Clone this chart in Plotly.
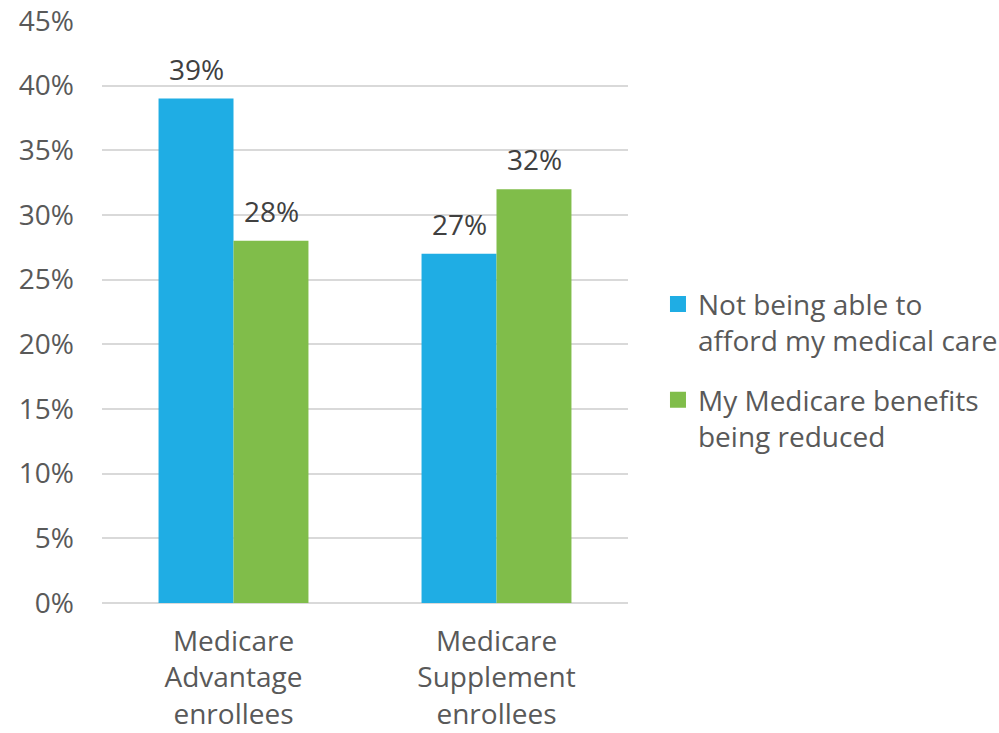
import plotly.graph_objects as go

categories = ["Medicare<br>Advantage<br>enrollees", "Medicare<br>Supplement<br>enrollees"]
series_names = ["Not being able to<br>afford my medical care", "My Medicare benefits<br>being reduced"]
afford_vals = [39, 27]
reduced_vals = [28, 32]
tick_vals = [0, 5, 10, 15, 20, 25, 30, 35, 40, 45]
tick_text = [f"{v}%" for v in tick_vals]

FONT = "Open Sans"
GRAY = "#595959"
SIZE = 28
colors = ["#1FADE4", "#80BD4A"]

fig = go.Figure()
all_vals = [afford_vals, reduced_vals]
for i, (name, vals) in enumerate(zip(series_names, all_vals)):
    fig.add_trace(go.Bar(
        x=categories, y=vals, name=name,
        marker=dict(color=colors[i], line=dict(width=0)),
        showlegend=False,
    ))
# legend entries with larger square symbols
for i, name in enumerate(series_names):
    fig.add_trace(go.Scatter(
        x=[None], y=[None], mode="markers", name=name,
        marker=dict(symbol="square", size=18, color=colors[i]),
        legendgroup=f"g{i}", showlegend=True,
    ))

# data labels
offsets = [-37.5, 37.5]
for i, vals in enumerate(all_vals):
    for cat, v in zip(categories, vals):
        fig.add_annotation(x=cat, y=v, xref="x", yref="y", text=f"{v}%",
                           showarrow=False, yanchor="bottom", xanchor="center",
                           xshift=offsets[i], yshift=9,
                           font=dict(family=FONT, size=SIZE, color="#404040"))

fig.update_layout(
    width=999, height=733,
    margin=dict(l=102, r=371, t=21, b=130, autoexpand=False),
    paper_bgcolor="white", plot_bgcolor="white",
    barmode="group", bargap=0.43, bargroupgap=0,
    font=dict(family=FONT, size=SIZE, color=GRAY),
    showlegend=True,
    legend=dict(x=1.057, y=0.40, xanchor="left", yanchor="middle",
                font=dict(family=FONT, size=SIZE, color=GRAY),
                tracegroupgap=20, traceorder="grouped", valign="top",
                itemwidth=30, bgcolor="rgba(0,0,0,0)"),
)
fig.update_yaxes(range=[0, 45], tickvals=tick_vals, ticktext=tick_text,
                 showgrid=True, gridcolor="#D9D9D9", gridwidth=1.5,
                 zeroline=True, zerolinecolor="#D9D9D9", zerolinewidth=1.5,
                 showline=False, ticks="", ticklabelstandoff=27,
                 tickfont=dict(family=FONT, size=SIZE, color=GRAY))
fig.update_xaxes(showline=False, ticks="", tickfont=dict(family=FONT, size=SIZE, color=GRAY),
                 ticklabelstandoff=19)

fig.write_html("out.html")
